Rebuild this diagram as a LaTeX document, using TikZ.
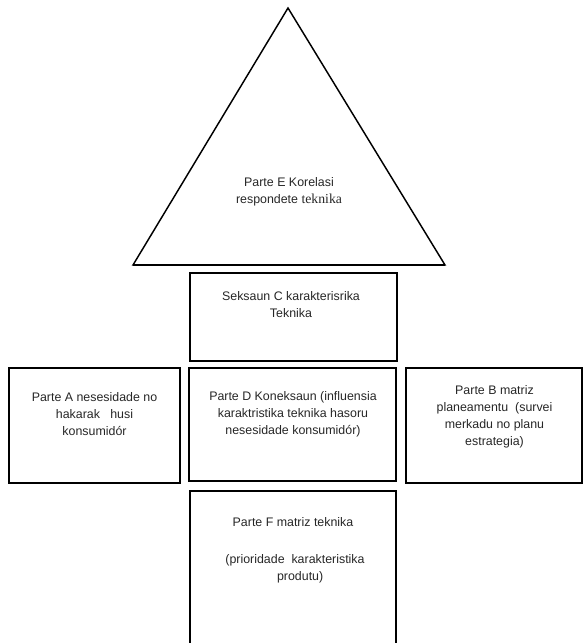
\documentclass[tikz,border=0pt]{standalone}
\usepackage{fontspec}
\setmainfont{Liberation Sans}
\newfontfamily\serifpart{Liberation Serif}
\begin{document}
\begin{tikzpicture}[x=0.75pt,y=-0.75pt,
  box/.style={draw=black,line width=1.1pt,rectangle,inner sep=0pt},
  txt/.style={align=center,font=\fontsize{9.3pt}{12.75pt}\selectfont,inner sep=0pt,text=black!85}]
\useasboundingbox (0,0) rectangle (584,643);
% triangle (Parte E)
\coordinate (apex) at (288,8);
\coordinate (bl) at (133,265);
\coordinate (br) at (445,265);
\draw[line width=1.1pt,line join=miter] (apex) -- (bl) -- (br) -- cycle;
\draw[line width=1.5pt] (bl) -- (br);
\node[txt] (E) at (289,192) {Parte E Korelasi\\respondete {\serifpart\fontsize{10.3pt}{12.75pt}\selectfont teknika}};
% boxes
\node[box,minimum width=155.25pt,minimum height=66pt] (C) at (293.5,317) {};
\node[box,minimum width=128.25pt,minimum height=86.25pt] (A) at (94.5,425.5) {};
\node[box,minimum width=155.25pt,minimum height=84.75pt] (D) at (292.5,424.5) {};
\node[box,minimum width=132pt,minimum height=86.25pt] (B) at (494.2,425.5) {};
\node[box,minimum width=154.5pt,minimum height=120pt] (F) at (293,571) {};
% texts
\node[txt] (Ct) at (291,305) {Seksaun C karakterisrika\\Teknika};
\node[txt] (At) at (94.5,414) {Parte A nesesidade no\\hakarak\ \ \ husi\\konsumidór};
\node[txt] (Dt) at (293,414) {Parte D Koneksaun (influensia\\karaktristika teknika hasoru\\nesesidade konsumidór)};
\node[txt] (Bt) at (494.5,416.5) {Parte B matriz\\planeamentu\ \ (survei\\merkadu no planu\\estrategia)};
\node[txt] (Ft1) at (293,522) {Parte F matriz teknika};
\node[txt] (Ft2) at (295,568.5) {(prioridade\ \ karakteristika\\\ \ \ produtu)};
\end{tikzpicture}
\end{document}
